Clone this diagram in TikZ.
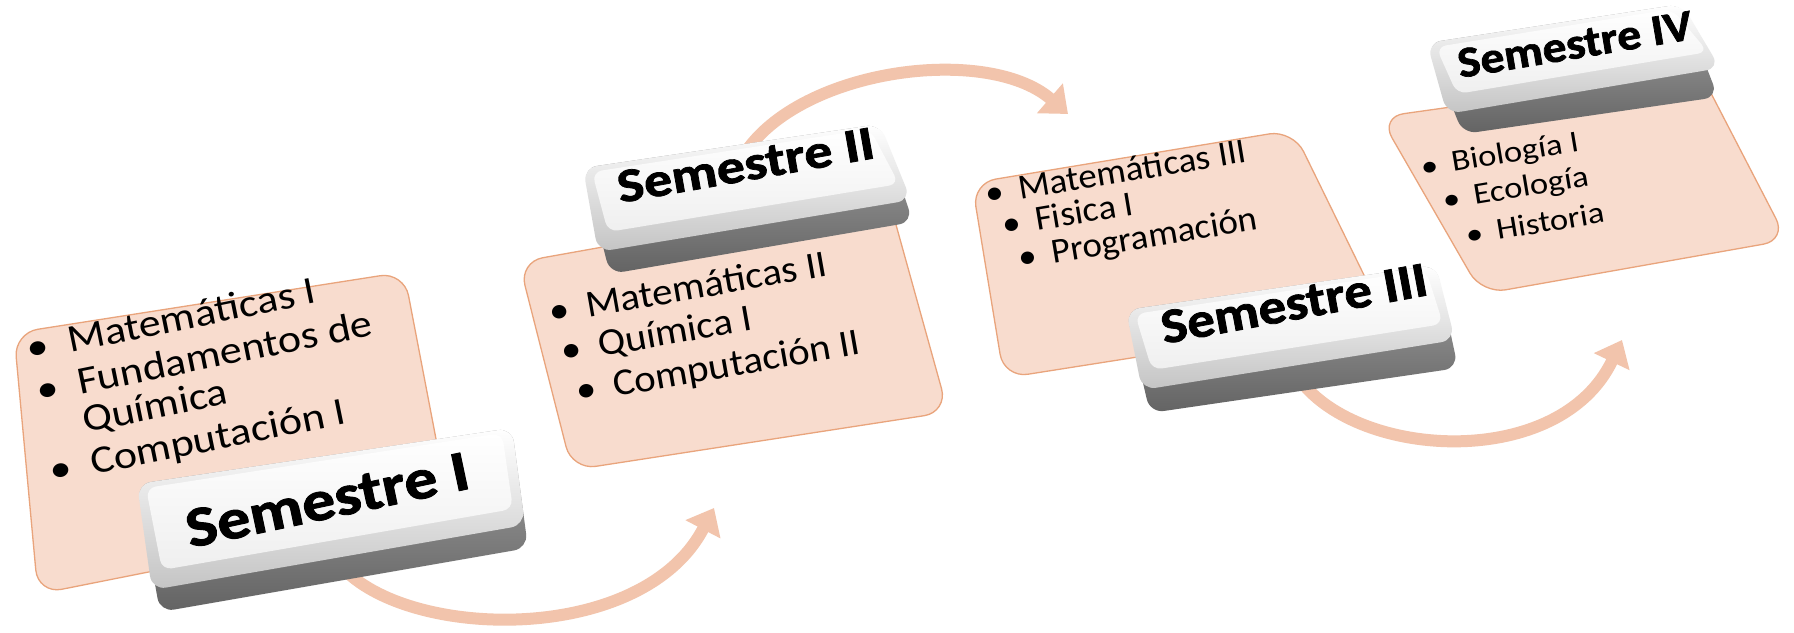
\documentclass[tikz,border=0pt]{standalone}
\usepackage{fontspec}
\setmainfont{Carlito}
\newfontfamily\keyfont[BoldFeatures={FakeBold=1.6}]{Carlito}
\usetikzlibrary{arrows.meta,calc}
\definecolor{cardfill}{HTML}{F8DCCE}
\definecolor{carddraw}{HTML}{E9A47C}
\definecolor{arrowc}{HTML}{F2C4AC}
\definecolor{keysideA}{HTML}{A5A5A5}
\definecolor{keysideB}{HTML}{636363}
\definecolor{bevelB}{HTML}{C4C4C4}
\definecolor{faceB}{HTML}{EFEFEF}
\newcommand\itembul[1]{\llap{•\hspace{#1}}}
\newcommand\drawkeycap[6]{%
  \path[rounded corners=14pt, top color=keysideA, bottom color=keysideB] #1 -- #2 -- #4 -- #6 -- cycle;
  \path[rounded corners=14pt, top color=white, bottom color=bevelB] #1 -- #2 -- #3 -- #5 -- cycle;
  \path[rounded corners=10pt, top color=white, bottom color=faceB] ($#1+(9,4)$) -- ($#2+(-10,5)$) -- ($#3+(-12,-16)$) -- ($#5+(10,-20)$) -- cycle;
}
\tikzset{
  card/.style={fill=cardfill, draw=carddraw, line width=1.3pt, rounded corners=24pt},
  flow/.style={draw=arrowc, line width=12pt, -{Triangle[width=38pt,length=24pt]}},
  item/.style={anchor=base west, inner sep=0pt},
  cA/.style={item, rotate=11.5, xscale=1.1, yscale=0.97, font=\fontsize{40}{48}\selectfont},
  cB/.style={item, rotate=10, xscale=1.02, yscale=0.95, font=\fontsize{40}{48}\selectfont},
  cC/.style={item, rotate=9.5, xscale=1.0, yscale=0.95, font=\fontsize{37}{44}\selectfont},
  cD/.style={item, rotate=9.5, xscale=1.05, yscale=0.92, font=\fontsize{33}{40}\selectfont},
  keytext/.style={anchor=base west, inner sep=0pt},
}
\begin{document}
\begin{tikzpicture}[x=1pt, y=-1pt]
\useasboundingbox[fill=white] (0,0) rectangle (1794,632);

% cards
\draw[card] (14,333) -- (404,272) -- (450,512) -- (38,594) -- cycle;
\draw[card] (519,262) -- (888,196) -- (948,412) -- (572,470) -- cycle;
\draw[card] (972,183) -- (1293,130) -- (1385,318) -- (1004,378) -- cycle;
\draw[card] (1380,117) -- (1700,72) -- (1787,240) -- (1482,294) -- cycle;

% card texts
\node[cA] (c1a) at (70,353) {\itembul{18pt}Matemáticas I};
\node[cA] (c1b) at (80,395) {\itembul{18pt}Fundamentos de};
\node[cA] (c1c) at (85,433) {Química};
\node[cA] (c1d) at (93,475) {\itembul{18pt}Computación I};

\node[cB] (c2a) at (588,318) {\itembul{17pt}Matemáticas II};
\node[cB] (c2b) at (600,357) {\itembul{17pt}Química I};
\node[cB] (c2c) at (615,397) {\itembul{17pt}Computación II};

\node[cC] (c3a) at (1020,200) {\itembul{15pt}Matemáticas III};
\node[cC] (c3b) at (1037,231) {\itembul{15pt}Fisica I};
\node[cC] (c3c) at (1053,264) {\itembul{15pt}Programación};

\node[cD] (c4a) at (1453,172) {\itembul{13pt}Biología I};
\node[cD] (c4b) at (1475,205) {\itembul{13pt}Ecología};
\node[cD] (c4c) at (1498,240) {\itembul{13pt}Historia};

% arrows
\coordinate (a1s) at (335,558);
\coordinate (a1e) at (714,508);
\coordinate (a2s) at (738,165);
\coordinate (a2e) at (1068,114);
\coordinate (a3s) at (1300,380);
\coordinate (a3e) at (1622,340);
\draw[flow] (a1s) .. controls (390,640) and (640,650) .. (a1e);
\draw[flow] (a2s) .. controls (785,70) and (985,42) .. (a2e);
\draw[flow] (a3s) .. controls (1360,460) and (1560,470) .. (a3e);

% keys
\drawkeycap{(137,484)}{(512,428)}{(525,525)}{(528,548)}{(152,590)}{(160,612)}
\drawkeycap{(583,168)}{(880,124)}{(911,200)}{(913,222)}{(598,252)}{(610,274)}
\drawkeycap{(1126,310)}{(1436,265)}{(1455,340)}{(1458,368)}{(1142,390)}{(1150,413)}
\drawkeycap{(1427,43)}{(1682,4)}{(1720,68)}{(1718,97)}{(1447,114)}{(1463,134)}

\node[keytext, rotate=12, xscale=1.1, yscale=0.95, font=\fontsize{60}{70}\keyfont\bfseries] (k1) at (190,548) {Semestre I};
\node[keytext, rotate=10, xscale=1.08, yscale=0.92, font=\fontsize{52}{60}\keyfont\bfseries] (k2) at (620,203) {Semestre II};
\node[keytext, rotate=10.5, xscale=1.06, yscale=0.95, font=\fontsize{52}{60}\keyfont\bfseries] (k3) at (1164,344) {Semestre III};
\node[keytext, rotate=9.5, xscale=1.04, yscale=0.95, font=\fontsize{46}{54}\keyfont\bfseries] (k4) at (1460,78) {Semestre IV};
\end{tikzpicture}
\end{document}
